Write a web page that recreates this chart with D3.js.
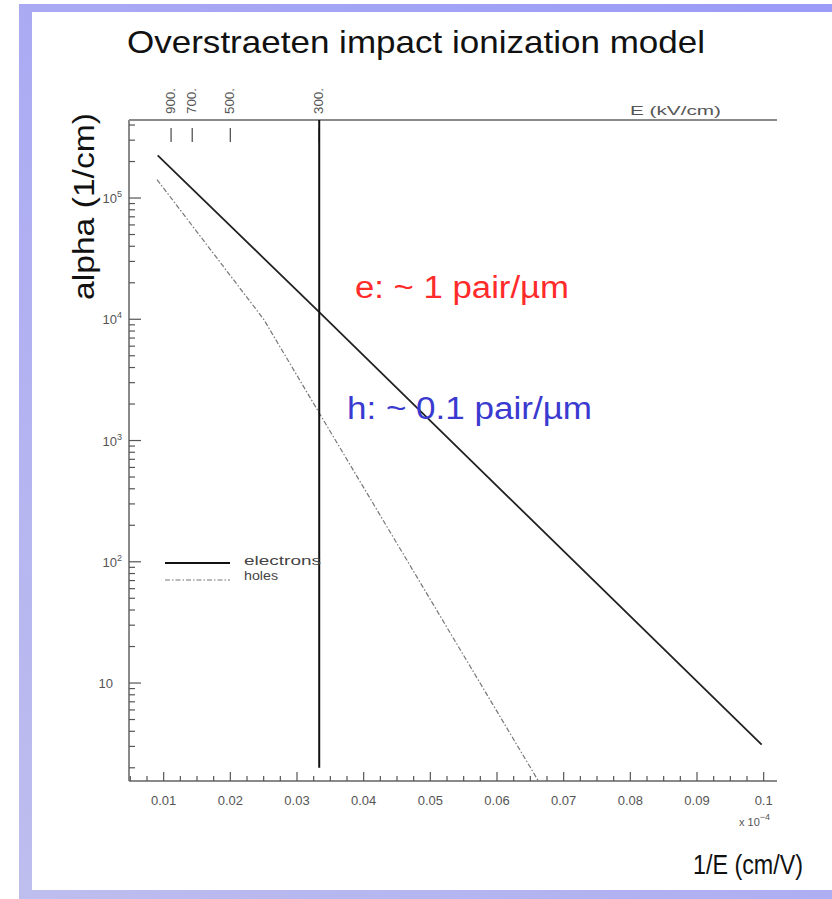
<!DOCTYPE html>
<html>
<head>
<meta charset="utf-8">
<script src="https://cdn.jsdelivr.net/npm/d3@7/dist/d3.min.js"></script>
<style>
  html, body { margin: 0; padding: 0; background: #fff; }
  svg { display: block; }
  text { font-family: "Liberation Sans", Arial, sans-serif; }
</style>
</head>
<body>
<svg id="chart" width="832" height="899"></svg>
<script>
// Impact ionization coefficient vs inverse field (1/E in units of 1e-4 cm/V)
const electronInvE = [0.0091, 0.0333, 0.0997];
const electronAlpha = [2.25e5, 1.15e4, 3.1];

const holeInvE = [0.0090, 0.0250, 0.0333, 0.0662];
const holeAlpha = [1.42e5, 1.0e4, 1.7e3, 1.56];

// Field marker (kV/cm) and top-axis field labels
const markerField = 300;
const topFieldTicks = [900, 700, 500, 300];
const topFieldLabels = ["900.", "700.", "500.", "300."];

const xTickValues = [0.01, 0.02, 0.03, 0.04, 0.05, 0.06, 0.07, 0.08, 0.09, 0.1];
const xTickLabels = ["0.01", "0.02", "0.03", "0.04", "0.05", "0.06", "0.07", "0.08", "0.09", "0.1"];
const yDecades = [10, 1e2, 1e3, 1e4, 1e5];
const yDecadeExp = ["", "2", "3", "4", "5"];

const legendLabels = ["electrons", "holes"];
const legendWidths = [77, 34];

const svg = d3.select("#chart");

// Lavender frame
const defs = svg.append("defs");
const grad = defs.append("linearGradient").attr("id", "frameGrad")
  .attr("gradientUnits", "userSpaceOnUse")
  .attr("x1", 832).attr("y1", 0).attr("x2", 0).attr("y2", 899);
grad.append("stop").attr("offset", "0").attr("stop-color", "#9a9af8");
grad.append("stop").attr("offset", "1").attr("stop-color", "#bebeee");
svg.append("rect").attr("x", 19).attr("y", 4).attr("width", 813).attr("height", 8).attr("fill", "url(#frameGrad)");
svg.append("rect").attr("x", 19).attr("y", 4).attr("width", 13).attr("height", 895).attr("fill", "url(#frameGrad)");
svg.append("rect").attr("x", 19).attr("y", 890).attr("width", 813).attr("height", 9).attr("fill", "url(#frameGrad)");

const plotLeft = 129, plotRight = 777, plotTop = 120, plotBottom = 781;
const x = d3.scaleLinear().domain([0.0048, 0.102]).range([plotLeft, plotRight]);
const y = d3.scaleLog().domain([1.556, 4.4e5]).range([plotBottom, plotTop]);

// Title
svg.append("text").attr("x", 127).attr("y", 53)
  .attr("font-size", 32).attr("fill", "#111")
  .attr("textLength", 578).attr("lengthAdjust", "spacingAndGlyphs")
  .text("Overstraeten impact ionization model");

// Axis frame lines (left, bottom, top)
const axisColor = "#8a8a8a";
svg.append("line").attr("x1", plotLeft).attr("x2", plotLeft).attr("y1", plotTop).attr("y2", plotBottom)
  .attr("stroke", axisColor).attr("stroke-width", 2);
svg.append("line").attr("x1", plotLeft).attr("x2", plotRight).attr("y1", plotBottom).attr("y2", plotBottom)
  .attr("stroke", axisColor).attr("stroke-width", 2);
svg.append("line").attr("x1", plotLeft).attr("x2", plotRight).attr("y1", plotTop).attr("y2", plotTop)
  .attr("stroke", axisColor).attr("stroke-width", 2);

// Bottom axis: ticks pointing inward
const xMinor = d3.range(0.005, 0.1021, 0.0025);
const xAxis = svg.append("g");
xAxis.selectAll("line").data(xMinor).join("line")
  .attr("x1", d => x(d)).attr("x2", d => x(d))
  .attr("y1", plotBottom).attr("y2", d => plotBottom - (Math.abs(Math.round(d * 100) - d * 100) < 1e-6 ? 9 : 5))
  .attr("stroke", "#555").attr("stroke-width", 1.2);
xAxis.selectAll("text").data(xTickValues).join("text")
  .attr("x", d => x(d)).attr("y", 805)
  .attr("text-anchor", "middle").attr("font-size", 13).attr("fill", "#555")
  .text((d, i) => xTickLabels[i]);
const xExp = svg.append("text").attr("x", 739).attr("y", 826).attr("font-size", 11).attr("fill", "#555");
xExp.append("tspan").text("x 10");
xExp.append("tspan").attr("dy", -6).attr("font-size", 9).text("−4");

// Left axis: log ticks pointing inward
const yMinor = [];
[1, 10, 1e2, 1e3, 1e4, 1e5].forEach(dec => {
  for (let m = 1; m <= 9; m++) {
    const v = dec * m;
    if (v >= 1.556 && v <= 4.4e5) yMinor.push({ v, major: m === 1 });
  }
});
svg.append("g").selectAll("line").data(yMinor).join("line")
  .attr("x1", plotLeft).attr("x2", d => plotLeft + (d.major ? 12 : 6))
  .attr("y1", d => y(d.v)).attr("y2", d => y(d.v))
  .attr("stroke", "#555").attr("stroke-width", 1.2);
const yLab = svg.append("g").selectAll("text").data(yDecades).join("text")
  .attr("x", (d, i) => i === 0 ? 113 : 122).attr("y", d => y(d) + 5)
  .attr("text-anchor", "end").attr("font-size", 13).attr("fill", "#555");
yLab.append("tspan").text("10");
yLab.append("tspan").attr("dy", -6).attr("font-size", 9).text((d, i) => yDecadeExp[i]);

// Y title
svg.append("text").attr("transform", "translate(94,300) rotate(-90)")
  .attr("font-size", 30).attr("fill", "#111")
  .attr("textLength", 187).attr("lengthAdjust", "spacingAndGlyphs")
  .text("alpha (1/cm)");

// X title
svg.append("text").attr("x", 693).attr("y", 874)
  .attr("font-size", 28).attr("fill", "#111")
  .attr("textLength", 110).attr("lengthAdjust", "spacingAndGlyphs")
  .text("1/E (cm/V)");

// Top axis: field in kV/cm
const topG = svg.append("g");
topG.selectAll("line").data(topFieldTicks).join("line")
  .attr("x1", d => x(10 / d)).attr("x2", d => x(10 / d))
  .attr("y1", 128).attr("y2", 142)
  .attr("stroke", "#555").attr("stroke-width", 1.3);
topG.selectAll("text").data(topFieldTicks).join("text")
  .attr("transform", d => `translate(${x(10 / d) + 4},114) rotate(-90)`)
  .attr("font-size", 12).attr("fill", "#555")
  .attr("textLength", 26).attr("lengthAdjust", "spacingAndGlyphs")
  .text((d, i) => topFieldLabels[i]);
svg.append("text").attr("x", 630).attr("y", 115)
  .attr("font-size", 12).attr("fill", "#555")
  .attr("textLength", 91).attr("lengthAdjust", "spacingAndGlyphs")
  .text("E (kV/cm)");

// Curves
const line = d3.line().x(d => x(d[0])).y(d => y(d[1]));
svg.append("path").datum(d3.zip(holeInvE, holeAlpha)).attr("d", line)
  .attr("fill", "none").attr("stroke", "#777").attr("stroke-width", 1.2)
  .attr("stroke-dasharray", "5,2,1.5,2");
svg.append("path").datum(d3.zip(electronInvE, electronAlpha)).attr("d", line)
  .attr("fill", "none").attr("stroke", "#222").attr("stroke-width", 1.8);

// Marker line at 300 kV/cm
svg.append("line")
  .attr("x1", x(10 / markerField)).attr("x2", x(10 / markerField))
  .attr("y1", plotTop).attr("y2", y(2))
  .attr("stroke", "#111").attr("stroke-width", 2);

// Legend
svg.append("line").attr("x1", 165).attr("x2", 230).attr("y1", 563).attr("y2", 563)
  .attr("stroke", "#111").attr("stroke-width", 1.8);
svg.append("line").attr("x1", 165).attr("x2", 230).attr("y1", 580).attr("y2", 580)
  .attr("stroke", "#777").attr("stroke-width", 1.2).attr("stroke-dasharray", "5,2,1.5,2");
svg.selectAll("text.leg").data(legendLabels).join("text").attr("class", "leg")
  .attr("x", 244).attr("y", (d, i) => 565 + i * 15)
  .attr("font-size", 12).attr("fill", "#444")
  .attr("textLength", (d, i) => legendWidths[i]).attr("lengthAdjust", "spacingAndGlyphs")
  .text(d => d);

// Annotations
svg.append("text").attr("x", 355).attr("y", 298).attr("font-size", 31).attr("fill", "#ff2a2a")
  .attr("textLength", 214).attr("lengthAdjust", "spacingAndGlyphs")
  .text("e: ~ 1 pair/µm");
svg.append("text").attr("x", 347).attr("y", 419).attr("font-size", 31).attr("fill", "#3a3ad0")
  .attr("textLength", 245).attr("lengthAdjust", "spacingAndGlyphs")
  .text("h: ~ 0.1 pair/µm");
</script>
</body>
</html>
